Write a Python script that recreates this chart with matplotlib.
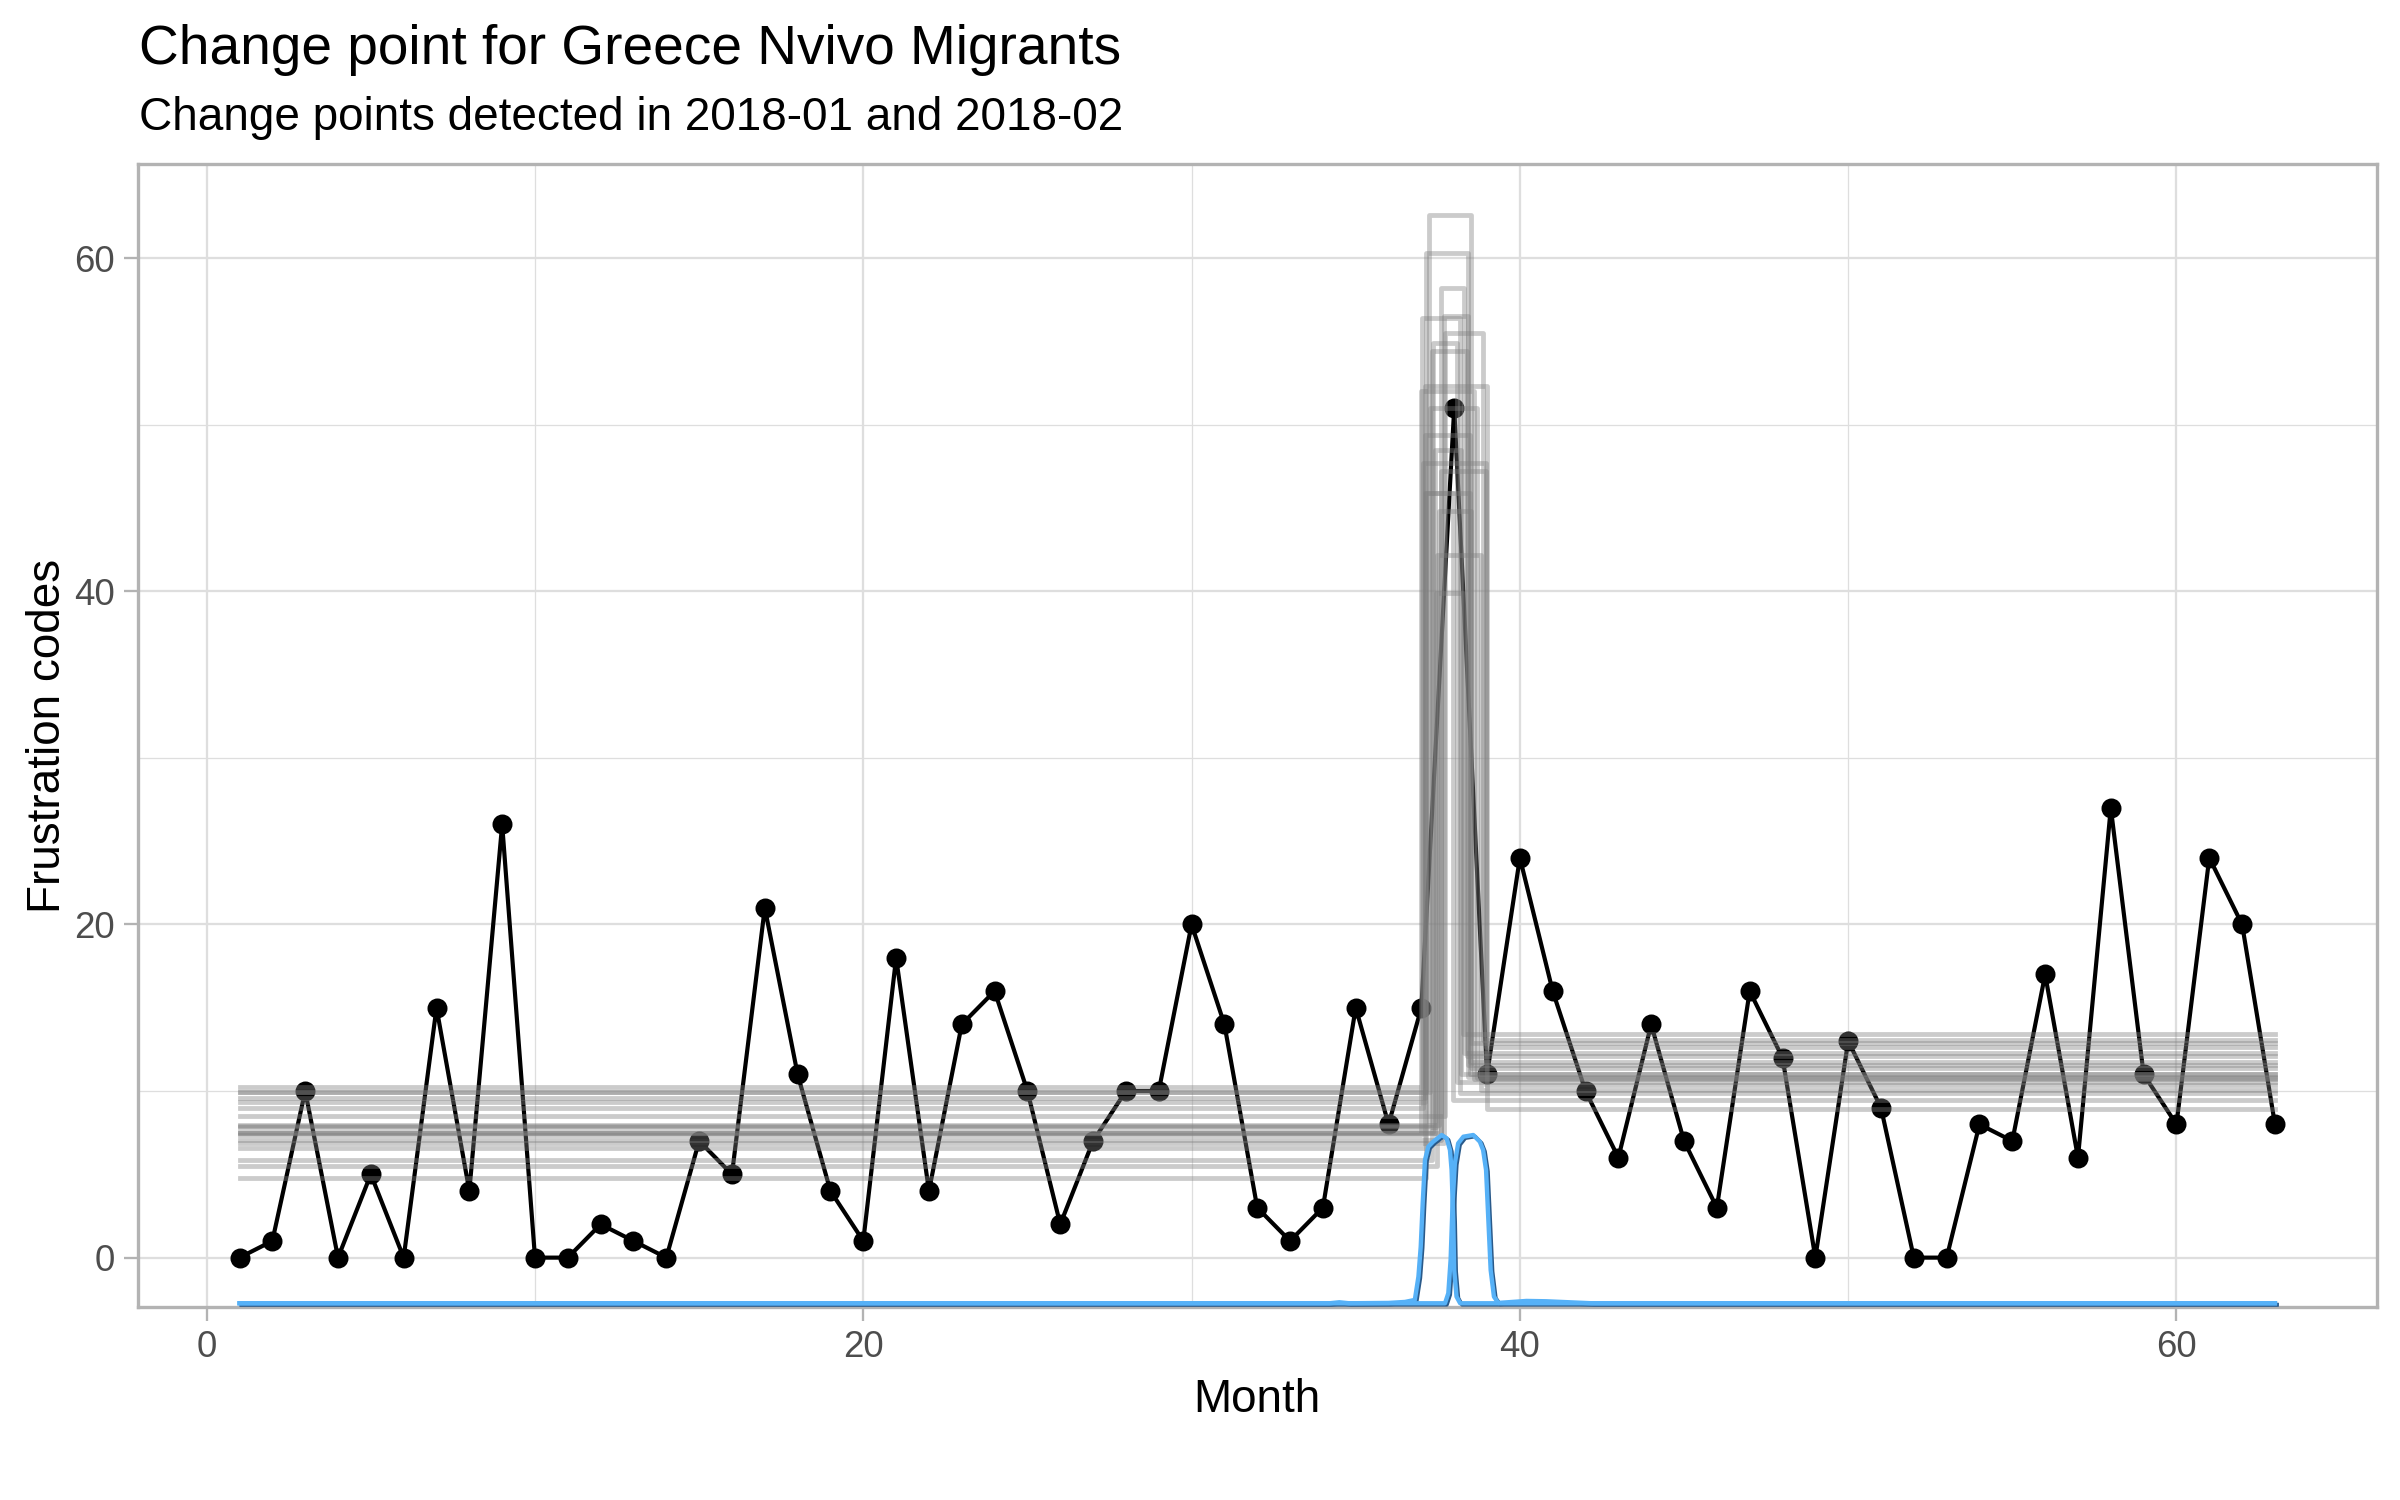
import matplotlib.pyplot as plt
from matplotlib.transforms import ScaledTranslation

plt.rcParams['font.family'] = ['Liberation Sans', 'DejaVu Sans']

# observed monthly counts
month = list(range(1, 64))
codes = [0, 1, 10, 0, 5, 0, 15, 4, 26, 0, 0, 2, 1, 0, 7, 5, 21, 11, 4, 1,
         18, 4, 14, 16, 10, 2, 7, 10, 10, 20, 14, 3, 1, 3, 15, 8, 15, 51, 11, 24,
         16, 10, 6, 14, 7, 3, 16, 12, 0, 13, 9, 0, 0, 8, 7, 17, 6, 27, 11, 8,
         24, 20, 8]

# posterior draws: change points and segment levels
cp1 = [37.23, 37.15, 37.59, 37.01, 37.70, 37.73, 37.35, 37.32, 37.10, 37.00,
       37.12, 37.05, 37.60, 37.12, 37.13, 37.55, 37.47, 37.45, 37.25, 37.40]
cp2 = [38.52, 38.42, 38.30, 38.17, 38.42, 38.89, 38.08, 38.39, 39.00, 38.60,
       38.47, 38.98, 38.98, 37.95, 38.47, 38.50, 38.82, 38.28, 38.70, 38.20]
level_left = [7.90, 9.97, 7.47, 10.27, 6.87, 8.50, 7.56, 5.86, 9.57, 7.37,
              6.57, 8.97, 7.07, 9.37, 4.77, 7.96, 5.50, 7.86, 9.97, 7.50]
level_mid = [62.6, 60.3, 58.2, 56.4, 56.5, 55.5, 54.9, 54.4, 52.3, 52.0,
             49.4, 47.7, 47.2, 45.9, 45.9, 44.8, 42.2, 39.9, 51.0, 48.5]
level_right = [11.37, 10.87, 12.31, 9.87, 11.57, 13.07, 10.57, 12.13, 8.91, 10.71,
               11.77, 10.37, 12.67, 9.47, 11.03, 12.87, 10.07, 13.43, 10.80, 11.00]

# change point densities (drawn along the bottom)
dens1_x = [1, 34.2, 34.5, 34.8, 36.0, 36.5, 36.80, 36.91, 36.98, 37.04, 37.11, 37.21,
           37.36, 37.62, 37.77, 37.87, 37.92, 37.97, 38.00, 38.07, 38.18, 63]
dens1_y = [-2.74, -2.74, -2.68, -2.74, -2.72, -2.66, -2.54, -1.14, 0.66, 3.26, 5.86, 6.66,
           6.96, 7.36, 7.16, 6.46, 5.26, 2.26, -0.74, -2.34, -2.74, -2.74]
dens2_x = [1, 37.60, 37.72, 37.82, 37.89, 37.95, 38.02, 38.12, 38.28, 38.58, 38.78,
           38.88, 38.97, 39.04, 39.11, 39.21, 39.34, 40.2, 40.8, 41.5, 42.2, 63]
dens2_y = [-2.74, -2.74, -2.74, -2.14, -0.14, 3.26, 5.66, 6.86, 7.26, 7.36, 6.96,
           6.46, 5.26, 2.26, -0.74, -2.34, -2.72, -2.60, -2.62, -2.68, -2.74, -2.74]

fig = plt.figure(figsize=(8, 5), dpi=300)
ax = fig.add_axes([0.0574, 0.1286, 0.9329, 0.7622])

ax.plot(month, codes, color='black', lw=1.0, zorder=3)
ax.plot(month, codes, 'o', color='black', ms=3.8, zorder=3)

for c1, c2, a, b, c in zip(cp1, cp2, level_left, level_mid, level_right):
    ax.plot([1, c1, c1, c2, c2, 63], [a, a, b, b, c, c], color='#7f7f7f',
            alpha=0.4, lw=1.15, solid_joinstyle='round', zorder=4)

shift = ax.transData + ScaledTranslation(0.45 / 72, -0.35 / 72, fig.dpi_scale_trans)
for dx, dy in [(dens1_x, dens1_y), (dens2_x, dens2_y)]:
    ax.plot(dx, dy, color='#2a5a8a', lw=0.9, transform=shift, zorder=5)
for dx, dy in [(dens1_x, dens1_y), (dens2_x, dens2_y)]:
    ax.plot(dx, dy, color='#56B1F7', lw=1.05, zorder=6)

ax.set_xlim(-2.1, 66.1)
ax.set_ylim(-2.97, 65.66)
ax.set_xticks([0, 20, 40, 60])
ax.set_yticks([0, 20, 40, 60])
ax.set_xticks([10, 30, 50], minor=True)
ax.set_yticks([10, 30, 50], minor=True)
ax.grid(which='major', color='#dedede', lw=0.55, zorder=0)
ax.grid(which='minor', color='#dedede', lw=0.3, zorder=0)
ax.set_axisbelow(True)
for s in ax.spines.values():
    s.set_color('#b3b3b3')
    s.set_linewidth(0.8)
ax.tick_params(which='major', length=3.3, width=0.55, color='#b3b3b3',
               labelsize=8.8, labelcolor='#4d4d4d', pad=2.2)
ax.tick_params(which='minor', length=0)

ax.set_xlabel('Month', fontsize=11, labelpad=3)
ax.set_ylabel('Frustration codes', fontsize=11, labelpad=1)

fig.text(0.058, 0.957, 'Change point for Greece Nvivo Migrants', fontsize=13.2,
         va='baseline', ha='left')
fig.text(0.058, 0.913, 'Change points detected in 2018-01 and 2018-02', fontsize=11,
         va='baseline', ha='left')

fig.savefig('out.png', dpi=300)
